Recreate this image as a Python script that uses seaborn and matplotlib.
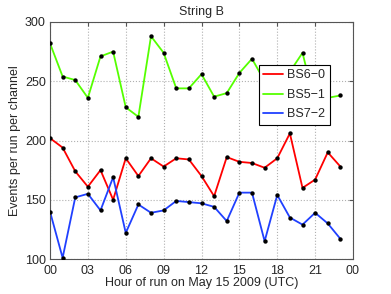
import matplotlib
matplotlib.use("Agg")
import matplotlib.pyplot as plt
import seaborn as sns
import pandas as pd

hours = list(range(24))
bs6_0 = [202, 194, 174, 161, 175, 150, 185, 170, 185, 178, 185, 184,
         170, 153, 186, 182, 181, 177, 185, 206, 160, 167, 190, 178]
bs5_1 = [282, 254, 251, 236, 271, 275, 228, 220, 288, 274, 244, 244,
         256, 237, 240, 257, 269, 250, 246, 258, 274, 231, 236, 238]
bs7_2 = [140, 101, 152, 155, 141, 169, 122, 146, 139, 141, 149, 148,
         147, 144, 132, 156, 156, 115, 154, 135, 129, 139, 130, 117]
series_names = ["BS6\u22120", "BS5\u22121", "BS7\u22122"]
xtick_vals = [0, 3, 6, 9, 12, 15, 18, 21, 24]
xtick_labels = ["00", "03", "06", "09", "12", "15", "18", "21", "00"]

df = pd.DataFrame({
    "hour": hours * 3,
    "events": bs6_0 + bs5_1 + bs7_2,
    "series": [series_names[0]] * 24 + [series_names[1]] * 24 + [series_names[2]] * 24,
})

sns.set_style("white")
plt.rcParams["font.family"] = ["Liberation Sans", "DejaVu Sans"]

fig = plt.figure(figsize=(3.91, 2.94), dpi=100)
ax = fig.add_axes([50 / 391, 1 - 259 / 294, 303 / 391, 237 / 294])

palette = {series_names[0]: "#ff0000", series_names[1]: "#55ff00", series_names[2]: "#2040ff"}
sns.lineplot(data=df, x="hour", y="events", hue="series", palette=palette,
             linewidth=1.3, ax=ax, zorder=2)
sns.scatterplot(data=df, x="hour", y="events", color="black", s=10,
                edgecolor="black", linewidth=0, legend=False, ax=ax, zorder=3)

ax.set_xlim(0, 24)
ax.set_ylim(100, 300)
ax.set_xticks(xtick_vals)
ax.set_xticklabels(xtick_labels)
ax.set_yticks([100, 150, 200, 250, 300])
ax.tick_params(direction="in", length=3, labelsize=9,
               top=True, right=True, color="#555555")
ax.tick_params(axis="x", pad=4)
ax.tick_params(axis="y", pad=3)
ax.grid(True, linestyle=":", color="#b0b0b0", linewidth=0.8)
for s in ax.spines.values():
    s.set_color("#555555")
    s.set_linewidth(0.8)
ax.set_xlabel("Hour of run on May 15 2009 (UTC)", fontsize=9, labelpad=0)
ax.set_ylabel("Events per run per channel", fontsize=9, labelpad=3)
ax.set_title("String B", fontsize=9, pad=5)

leg = ax.legend(loc="upper left", bbox_to_anchor=((259 - 50) / 303, (259 - 65) / 237),
                borderaxespad=0,
                frameon=True, fancybox=False, edgecolor="black", framealpha=1,
                fontsize=9, handlelength=1.6, borderpad=0.35, labelspacing=0.6,
                handletextpad=0.3)
leg.get_frame().set_linewidth(0.8)
leg.set_zorder(5)

fig.savefig("out.png", dpi=100)
